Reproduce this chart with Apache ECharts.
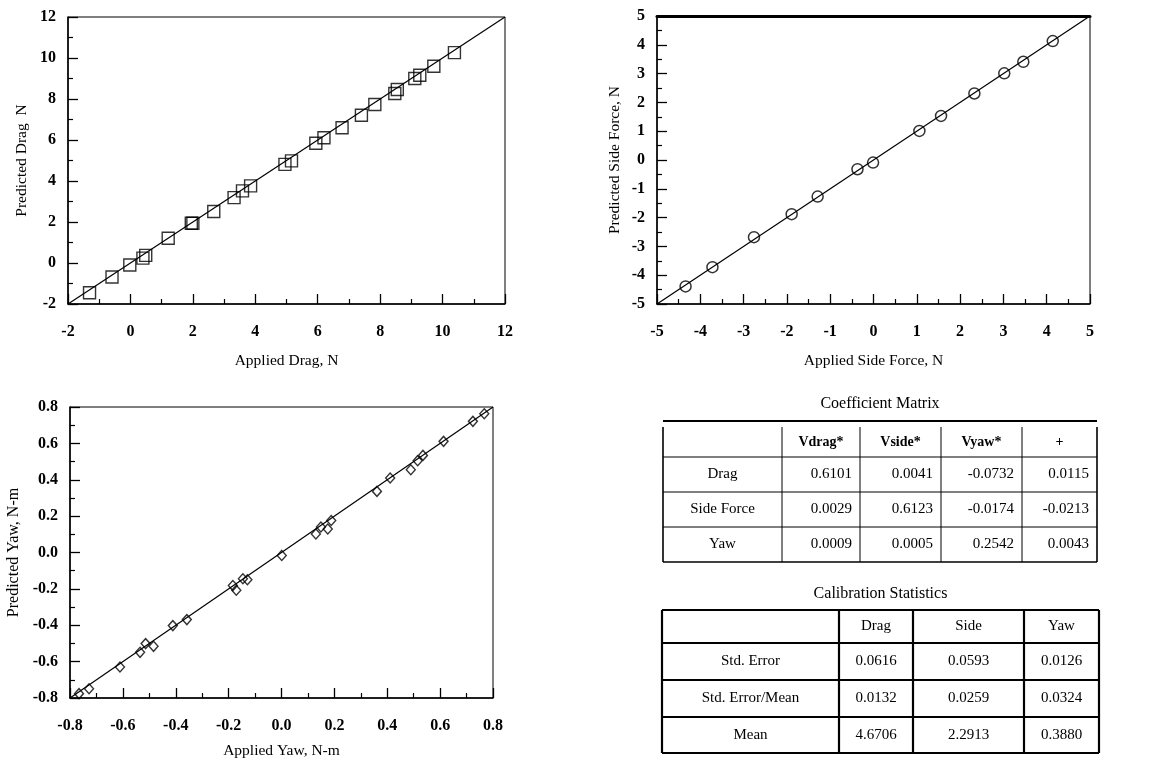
<!DOCTYPE html>
<html>
<head>
<meta charset="utf-8">
<script src="https://cdn.jsdelivr.net/npm/echarts@6/dist/echarts.min.js"></script>
<style>
html,body{margin:0;padding:0;background:#fff;}
#chart{width:1167px;height:760px;}
</style>
</head>
<body>
<div id="chart"></div>
<script>
// ---- Drag calibration ----
const dragApplied   = [-1.31,-0.59,-0.02,0.40,0.49,1.21,1.95,2.00,2.67,3.32,3.59,3.85,4.95,5.16,5.94,6.20,6.78,7.40,7.83,8.47,8.55,9.11,9.27,9.72,10.38];
const dragPredicted = [-1.45,-0.68,-0.10,0.24,0.37,1.21,1.94,1.94,2.51,3.19,3.52,3.76,4.81,4.98,5.84,6.11,6.60,7.21,7.73,8.27,8.46,9.00,9.16,9.60,10.26];
// ---- Side force calibration ----
const sideApplied   = [-4.34,-3.72,-2.76,-1.89,-1.29,-0.37,-0.01,1.06,1.56,2.33,3.02,3.46,4.14];
const sidePredicted = [-4.39,-3.72,-2.68,-1.88,-1.27,-0.32,-0.09,1.01,1.53,2.31,3.01,3.41,4.13];
// ---- Yaw calibration ----
const yawApplied   = [-0.766,-0.728,-0.611,-0.535,-0.514,-0.484,-0.411,-0.358,-0.184,-0.171,-0.146,-0.129,0.001,0.130,0.149,0.175,0.188,0.361,0.411,0.489,0.515,0.535,0.613,0.724,0.767];
const yawPredicted = [-0.776,-0.749,-0.630,-0.549,-0.501,-0.516,-0.402,-0.369,-0.182,-0.208,-0.144,-0.150,-0.016,0.102,0.140,0.129,0.176,0.336,0.410,0.455,0.505,0.534,0.611,0.721,0.763];
// ---- Fit lines (y = x) ----
const dragLine = [-2, 12];
const sideLine = [-5, 5];
const yawLine  = [-0.8, 0.8];
// ---- Axis titles ----
const axisTitles = {
  dragX: 'Applied Drag, N', dragY: 'Predicted Drag  N',
  sideX: 'Applied Side Force, N', sideY: 'Predicted Side Force, N',
  yawX: 'Applied Yaw, N-m', yawY: 'Predicted Yaw, N-m'
};
// ---- Coefficient matrix ----
const coefTitle = 'Coefficient Matrix';
const coefColLabels = ['Vdrag*', 'Vside*', 'Vyaw*', '+'];
const coefRowLabels = ['Drag', 'Side Force', 'Yaw'];
const coefValues = [
  [0.6101, 0.0041, -0.0732, 0.0115],
  [0.0029, 0.6123, -0.0174, -0.0213],
  [0.0009, 0.0005, 0.2542, 0.0043]
];
// ---- Calibration statistics ----
const statTitle = 'Calibration Statistics';
const statColLabels = ['Drag', 'Side', 'Yaw'];
const statRowLabels = ['Std. Error', 'Std. Error/Mean', 'Mean'];
const statValues = [
  [0.0616, 0.0593, 0.0126],
  [0.0132, 0.0259, 0.0324],
  [4.6706, 2.2913, 0.3880]
];

const FONT = '"Liberation Serif","DejaVu Serif",serif';
const pairs = (xs, ys) => xs.map((x, i) => [x, ys[i]]);

function valAxis(grid, min, max, interval, opts) {
  opts = opts || {};
  return Object.assign({
    type: 'value', gridIndex: grid, min: min, max: max, interval: interval,
    splitLine: { show: false },
    axisLine: { show: true, onZero: false, lineStyle: { color: '#000', width: 1.5 } },
    axisTick: { show: true, inside: true, length: 10, lineStyle: { color: '#000', width: 1.3 } },
    minorTick: { show: true, splitNumber: 2, length: 5, lineStyle: { color: '#000', width: 1.2 } },
    axisLabel: {
      color: '#000', fontFamily: FONT, fontSize: 16, fontWeight: 'bold', margin: opts.margin || 12,
      formatter: opts.fmt || (v => String(Math.round(v)))
    },
    nameLocation: 'middle',
    nameTextStyle: { color: '#000', fontFamily: FONT, fontSize: 15.5 }
  }, opts.extra || {});
}

const fmt1 = v => v.toFixed(1);

const graphics = [];
function gLine(x1, y1, x2, y2, w) {
  graphics.push({ type: 'line', shape: { x1, y1, x2, y2 }, style: { stroke: '#000', lineWidth: w }, silent: true });
}
function gText(t, x, y, align, size, weight) {
  graphics.push({ type: 'text', silent: true, style: {
    text: t, x: x, y: y, align: align, textAlign: align, verticalAlign: 'middle', textVerticalAlign: 'middle',
    fill: '#000', font: (weight || 'normal') + ' ' + size + 'px ' + FONT
  }});
}

// Coefficient matrix table
(function () {
  const cols = [663, 782, 860, 941, 1022, 1097];
  const rows = [427, 457, 492, 527, 562];
  gText(coefTitle, (cols[0] + cols[5]) / 2, 404, 'center', 16);
  gLine(cols[0], 421, cols[5], 421, 2.2);
  rows.forEach((y, i) => { if (i > 0) gLine(cols[0], y, cols[5], y, i === rows.length - 1 ? 1.6 : 1); });
  cols.forEach((x, i) => gLine(x, rows[0], x, rows[rows.length - 1], (i === 0 || i === cols.length - 1) ? 1.6 : 1));
  coefColLabels.forEach((t, j) => gText(t, (cols[j + 1] + cols[j + 2]) / 2, (rows[0] + rows[1]) / 2, 'center', 14, 'bold'));
  coefRowLabels.forEach((t, i) => {
    const cy = (rows[i + 1] + rows[i + 2]) / 2;
    gText(t, (cols[0] + cols[1]) / 2, cy, 'center', 15);
    coefValues[i].forEach((v, j) => gText(v.toFixed(4), cols[j + 2] - 8, cy, 'right', 15));
  });
})();

// Calibration statistics table
(function () {
  const cols = [662, 839, 913, 1024, 1099];
  const rows = [610, 643, 680, 717, 753];
  gText(statTitle, (cols[0] + cols[4]) / 2, 594, 'center', 16);
  rows.forEach(y => gLine(cols[0], y, cols[4], y, 2.2));
  cols.forEach(x => gLine(x, rows[0], x, rows[rows.length - 1], 2.2));
  statColLabels.forEach((t, j) => gText(t, (cols[j + 1] + cols[j + 2]) / 2, (rows[0] + rows[1]) / 2, 'center', 15));
  statRowLabels.forEach((t, i) => {
    const cy = (rows[i + 1] + rows[i + 2]) / 2;
    gText(t, (cols[0] + cols[1]) / 2, cy, 'center', 15);
    statValues[i].forEach((v, j) => gText(v.toFixed(4), (cols[j + 1] + cols[j + 2]) / 2, cy, 'center', 15));
  });
})();

const chart = echarts.init(document.getElementById('chart'), null, { renderer: 'canvas' });
const gridStyle = { show: true, borderColor: '#000', borderWidth: 1, backgroundColor: 'transparent', containLabel: false };

const option = {
  backgroundColor: '#fff',
  animation: false,
  grid: [
    Object.assign({ left: 68, top: 17, width: 437, height: 287 }, gridStyle),
    Object.assign({ left: 657, top: 16, width: 433, height: 288 }, gridStyle),
    Object.assign({ left: 70, top: 407, width: 423, height: 291 }, gridStyle)
  ],
  xAxis: [
    valAxis(0, dragLine[0], dragLine[1], 2, { margin: 20, extra: { name: axisTitles.dragX, nameGap: 49 } }),
    valAxis(1, sideLine[0], sideLine[1], 1, { margin: 20, extra: { name: axisTitles.sideX, nameGap: 49 } }),
    valAxis(2, yawLine[0], yawLine[1], 0.2, { fmt: fmt1, margin: 20, extra: { name: axisTitles.yawX, nameGap: 45 } }),
    { type: 'value', gridIndex: 1, position: 'top', min: -5, max: 5,
      axisLine: { show: true, onZero: false, lineStyle: { color: '#000', width: 3 } },
      axisTick: { show: false }, axisLabel: { show: false }, splitLine: { show: false } }
  ],
  yAxis: [
    valAxis(0, dragLine[0], dragLine[1], 2, { extra: { name: axisTitles.dragY, nameGap: 38 } }),
    valAxis(1, sideLine[0], sideLine[1], 1, { extra: { name: axisTitles.sideY, nameGap: 34 } }),
    valAxis(2, yawLine[0], yawLine[1], 0.2, { fmt: fmt1, extra: { name: axisTitles.yawY, nameGap: 48, nameTextStyle: { color: '#000', fontFamily: FONT, fontSize: 16 } } })
  ],
  series: [
    { type: 'line', xAxisIndex: 0, yAxisIndex: 0, data: pairs(dragLine, dragLine), showSymbol: false, symbol: 'none',
      lineStyle: { color: '#000', width: 1.2 }, silent: true },
    { type: 'scatter', xAxisIndex: 0, yAxisIndex: 0, data: pairs(dragApplied, dragPredicted), symbol: 'rect', symbolSize: 12,
      itemStyle: { color: 'rgba(255,255,255,0)', borderColor: '#000', borderWidth: 1.4 } },
    { type: 'line', xAxisIndex: 1, yAxisIndex: 1, data: pairs(sideLine, sideLine), showSymbol: false, symbol: 'none',
      lineStyle: { color: '#000', width: 1.2 }, silent: true },
    { type: 'scatter', xAxisIndex: 1, yAxisIndex: 1, data: pairs(sideApplied, sidePredicted), symbol: 'circle', symbolSize: 11,
      itemStyle: { color: 'rgba(255,255,255,0)', borderColor: '#000', borderWidth: 1.5 } },
    { type: 'line', xAxisIndex: 2, yAxisIndex: 2, data: pairs(yawLine, yawLine), showSymbol: false, symbol: 'none',
      lineStyle: { color: '#000', width: 1.2 }, silent: true },
    { type: 'scatter', xAxisIndex: 2, yAxisIndex: 2, data: pairs(yawApplied, yawPredicted), symbol: 'diamond', symbolSize: [9, 10],
      itemStyle: { color: 'rgba(255,255,255,0)', borderColor: '#000', borderWidth: 1.4 } }
  ],
  graphic: graphics
};
chart.setOption(option);
</script>
</body>
</html>
